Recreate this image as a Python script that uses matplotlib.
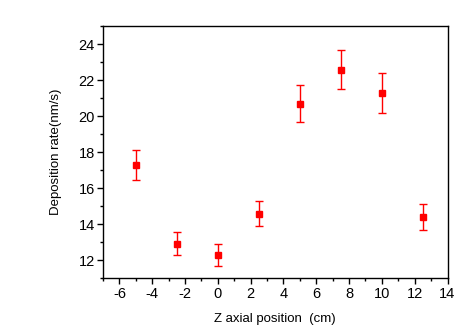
import matplotlib
matplotlib.use("Agg")
import matplotlib.pyplot as plt
from matplotlib.ticker import MultipleLocator

plt.rcParams['font.family'] = ['Liberation Sans', 'DejaVu Sans']
plt.rcParams['axes.unicode_minus'] = False

z_pos = [-5, -2.5, 0, 2.5, 5, 7.5, 10, 12.5]
rate = [17.3, 12.92, 12.3, 14.6, 20.7, 22.6, 21.3, 14.4]
err = [0.85, 0.65, 0.6, 0.72, 1.03, 1.1, 1.1, 0.73]

fig = plt.figure(figsize=(4.67, 3.31), dpi=100)
ax = fig.add_axes([103/467, 1-278.3/331, (447.5-103)/467, (278.3-26.3)/331])

ax.errorbar(z_pos, rate, yerr=err, fmt='s', color='#ff0000', ecolor='#ff0000',
            markersize=4.5, elinewidth=1.0, capsize=3, capthick=1.0)

ax.set_xlim(-7, 14)
ax.set_ylim(11, 25)
ax.xaxis.set_major_locator(MultipleLocator(2))
ax.xaxis.set_minor_locator(MultipleLocator(1))
ax.yaxis.set_minor_locator(MultipleLocator(1))
ax.set_yticks([12, 14, 16, 18, 20, 22, 24])
ax.tick_params(which='major', direction='out', length=4, width=1, labelsize=10.5, pad=2)
ax.tick_params(which='minor', direction='out', length=2.5, width=1)
for s in ax.spines.values():
    s.set_linewidth(1.0)

ax.set_xlabel('Z axial position  (cm)', fontsize=9.5, labelpad=9)
ax.set_ylabel('Deposition rate(nm/s)', fontsize=9.5, labelpad=12)

fig.savefig('out.png', dpi=100)
